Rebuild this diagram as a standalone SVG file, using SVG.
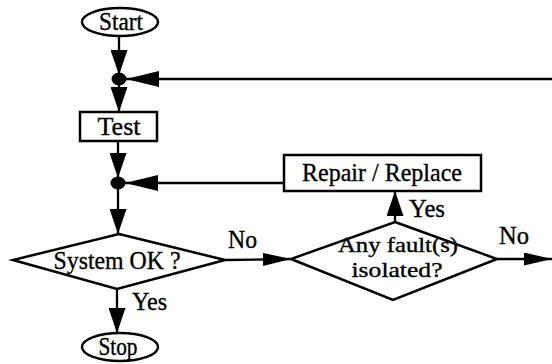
<svg xmlns="http://www.w3.org/2000/svg" width="552" height="364" viewBox="0 0 552 364" font-family="'Liberation Serif', 'Times New Roman', Times, serif" font-size="25">
<style>
  .shape { fill: #fff; stroke: #000; stroke-width: 2.5; }
  .dot { fill: #000; stroke: none; }
  .conn { fill: none; stroke: #000; stroke-width: 2.3; }
  text { fill: #000; stroke: #000; stroke-width: 0.35; text-anchor: middle; }
  .lbl { text-anchor: start; }
  .small { font-size: 21px; }
</style>
<defs>
  <marker id="ahv" markerUnits="userSpaceOnUse" viewBox="0 0 25 17" markerWidth="25" markerHeight="17" refX="25" refY="8.5" orient="auto">
    <path d="M0,0 L25,8.5 L0,17 Z" fill="#000"/>
  </marker>
  <marker id="ahl" markerUnits="userSpaceOnUse" viewBox="0 0 33 16" markerWidth="33" markerHeight="16" refX="33" refY="8" orient="auto">
    <path d="M0,0 L33,8 L0,16 Z" fill="#000"/>
  </marker>
  <marker id="ahr" markerUnits="userSpaceOnUse" viewBox="0 0 28 13" markerWidth="28" markerHeight="13" refX="28" refY="6.5" orient="auto">
    <path d="M0,0 L28,6.5 L0,13 Z" fill="#000"/>
  </marker>
</defs>

<g id="connectors">
  <line class="conn" x1="119" y1="37" x2="119" y2="75" marker-end="url(#ahv)"/>
  <line class="conn" x1="552" y1="79" x2="126" y2="79" marker-end="url(#ahl)"/>
  <line class="conn" x1="119" y1="85" x2="119" y2="112" marker-end="url(#ahv)"/>
  <line class="conn" x1="118" y1="141" x2="118" y2="178" marker-end="url(#ahv)"/>
  <line class="conn" x1="284" y1="183" x2="125" y2="183" marker-end="url(#ahl)"/>
  <line class="conn" x1="118" y1="189" x2="118" y2="234" marker-end="url(#ahv)"/>
  <line class="conn" x1="225" y1="260" x2="291" y2="259" marker-end="url(#ahr)"/>
  <line class="conn" x1="395" y1="222" x2="395" y2="191" marker-end="url(#ahv)"/>
  <line class="conn" x1="497" y1="259" x2="552" y2="259" marker-end="url(#ahr)"/>
  <line class="conn" x1="117" y1="289" x2="117" y2="333" marker-end="url(#ahv)"/>
  <text class="lbl" x="228" y="248" textLength="29" lengthAdjust="spacingAndGlyphs">No</text>
  <text class="lbl" x="409" y="217" textLength="36" lengthAdjust="spacingAndGlyphs">Yes</text>
  <text class="lbl" x="499" y="244" textLength="30" lengthAdjust="spacingAndGlyphs">No</text>
  <text class="lbl" x="132" y="310" textLength="35" lengthAdjust="spacingAndGlyphs">Yes</text>
</g>

<g id="start">
  <ellipse class="shape" cx="120" cy="22" rx="38" ry="14"/>
  <text x="121" y="30" textLength="44" lengthAdjust="spacingAndGlyphs">Start</text>
</g>

<g id="junction1">
  <ellipse class="dot" cx="119" cy="79" rx="7.5" ry="6.5"/>
</g>

<g id="test">
  <rect class="shape" x="80" y="112" width="77" height="29"/>
  <text x="119" y="135" textLength="43" lengthAdjust="spacingAndGlyphs">Test</text>
</g>

<g id="junction2">
  <ellipse class="dot" cx="118" cy="183" rx="7.5" ry="6.5"/>
</g>

<g id="repair">
  <rect class="shape" x="284" y="155" width="197" height="36"/>
  <text x="382" y="181" textLength="160" lengthAdjust="spacingAndGlyphs">Repair / Replace</text>
</g>

<g id="system-ok">
  <polygon class="shape" points="119,234 225,260 117,289 13,260"/>
  <text x="117" y="269" textLength="127" lengthAdjust="spacingAndGlyphs">System OK ?</text>
</g>

<g id="fault-isolated">
  <polygon class="shape" points="395,222 497,259 393,300 291,259"/>
  <text class="small" x="398" y="252" textLength="120" lengthAdjust="spacingAndGlyphs">Any fault(s)</text>
  <text class="small" x="397" y="277" textLength="91" lengthAdjust="spacingAndGlyphs">isolated?</text>
</g>

<g id="stop">
  <ellipse class="shape" cx="120" cy="347" rx="38" ry="14"/>
  <text x="118" y="355" textLength="39" lengthAdjust="spacingAndGlyphs">Stop</text>
</g>
</svg>
